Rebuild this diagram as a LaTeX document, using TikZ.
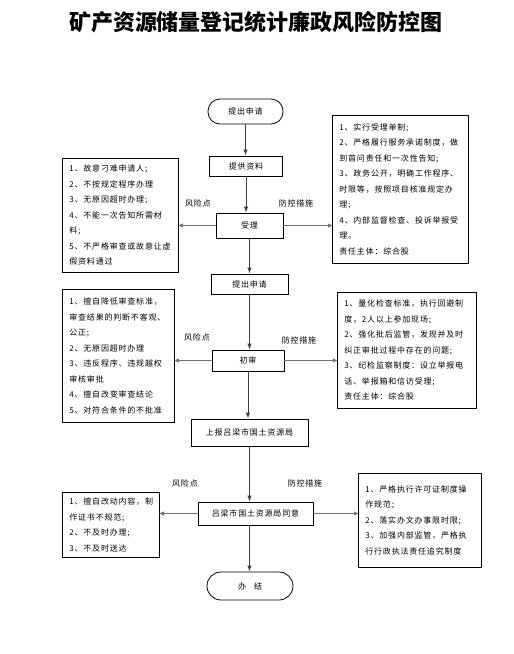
\documentclass[tikz,border=0pt]{standalone}
\usepackage{fontspec}
\setmainfont{Noto Sans CJK SC}
\newfontfamily\boxfont{Noto Sans CJK SC}[LetterSpace=10]
\usetikzlibrary{arrows.meta}
\tikzset{
  small/.style={font=\boxfont\fontsize{8}{15.5}\selectfont},
  flowbox/.style={draw, line width=0.8pt, small, inner sep=0pt, align=center},
  termbox/.style={flowbox, rounded corners=12pt},
  txtbox/.style={draw, line width=0.8pt, small, anchor=north west, inner xsep=7pt, inner ysep=0pt, align=left},
  varrow/.style={draw=black!75, line width=0.9pt, -{Latex[length=6pt,width=4.5pt]}},
  harrow/.style={draw=black!55, line width=1.4pt, -{Latex[length=5pt,width=4.5pt]}, shorten >=-1pt},
  lbl/.style={small}
}
\begin{document}
\begin{tikzpicture}[x=1pt,y=-1pt]
\useasboundingbox[fill=white] (0,0) rectangle (514,654);
\node[font=\fontsize{22}{24}\selectfont\bfseries] (title) at (256,22) {矿产资源储量登记统计廉政风险防控图};

% main flow
\node[termbox, minimum width=75pt, minimum height=25pt] (S1) at (245.5,111.5) {提出申请};
\node[flowbox, minimum width=73pt, minimum height=20pt] (B1) at (246,166) {提供资料};
\node[flowbox, minimum width=67pt, minimum height=25pt] (B2) at (249.5,225.5) {受理};
\node[flowbox, minimum width=77pt, minimum height=20pt] (B3) at (249.5,284) {提出申请};
\node[flowbox, minimum width=72pt, minimum height=21pt] (B4) at (248,360.5) {初审};
\node[flowbox, minimum width=117pt, minimum height=27pt] (B5) at (249.5,432.5) {上报吕梁市国土资源局};
\node[flowbox, minimum width=115pt, minimum height=23pt] (B6) at (255.5,513.5) {吕梁市国土资源局同意};
\node[termbox, minimum width=86pt, minimum height=28pt, rounded corners=14pt] (S2) at (250,586) {办\quad 结};

% side boxes
\node[txtbox, minimum width=116pt, minimum height=114pt, text width=102pt] (L1) at (62,158) {%
1、故意刁难申请人;\\
2、不按规定程序办理\\
3、无原因超时办理;\\
4、不能一次告知所需材\\
料;\\
5、不严格审查或故意让虚\\
假资料通过};

\node[txtbox, minimum width=136pt, minimum height=148pt, text width=122pt, inner xsep=6pt] (R1) at (332,115) {%
1、实行受理单制;\\
2、严格履行服务承诺制度，做\\
到首问责任和一次性告知;\\
3、政务公开，明确工作程序、\\
时限等，按照项目核准规定办\\
理;\\
4、内部监督检查、投诉举报受\\
理。\\
责任主体：综合股};

\node[txtbox, minimum width=112pt, minimum height=133pt, text width=98pt] (L2) at (62,289) {%
1、擅自降低审查标准，\\
审查结果的判断不客观、\\
公正;\\
2、无原因超时办理\\
3、违反程序、违规越权\\
审核审批\\
4、擅自改变审查结论\\
5、对符合条件的不批准};

\node[txtbox, minimum width=139pt, minimum height=116pt, text width=125pt] (R2) at (337,292) {%
1、量化检查标准，执行回避制\\
度，2人以上参加现场;\\
2、强化批后监管，发现并及时\\
纠正审批过程中存在的问题;\\
3、纪检监察制度：设立举报电\\
话、举报箱和信访受理;\\
责任主体：综合股};

\node[txtbox, minimum width=97pt, minimum height=65pt, text width=83pt] (L3) at (62,492) {%
1、擅自改动内容，制\\
作证书不规范;\\
2、不及时办理;\\
3、不及时送达};

\node[txtbox, minimum width=123pt, minimum height=94pt, text width=109pt] (R3) at (358,473) {%
1、严格执行许可证制度操\\
作规范;\\
2、落实办文办事限时限;\\
3、加强内部监管，严格执\\
行行政执法责任追究制度};

% labels
\node[lbl] (r1) at (198,203) {风险点};
\node[lbl] (p1) at (296,203) {防控措施};
\node[lbl] (r2) at (197,337) {风险点};
\node[lbl] (p2) at (299,340) {防控措施};
\node[lbl] (r3) at (185,483) {风险点};
\node[lbl] (p3) at (305,483) {防控措施};

% vertical connectors
\draw[varrow] (S1.south) -- (S1.south |- B1.north);
\draw[varrow] (B1.south) -- (B1.south |- B2.north);
\draw[varrow] (B2.south) -- (B2.south |- B3.north);
\draw[varrow] (B3.south) -- (B3.south |- B4.north);
\draw[varrow] (B4.south) -- (B4.south |- B5.north);
\draw[varrow] (B5.south) -- (B5.south |- B6.north);
\draw[varrow] (B5.south |- B6.south) -- (B5.south |- S2.north);

% horizontal connectors
\draw[harrow] (B2.west) -- (L1.east |- B2.west);
\draw[harrow] (B2.east) -- (R1.west |- B2.east);
\draw[harrow] (B4.west) -- (L2.east |- B4.west);
\draw[harrow] (B4.east) -- (R2.west |- B4.east);
\draw[harrow] (B6.west) -- (L3.east |- B6.west);
\draw[harrow] (B6.east) -- (R3.west |- B6.east);
\end{tikzpicture}
\end{document}
